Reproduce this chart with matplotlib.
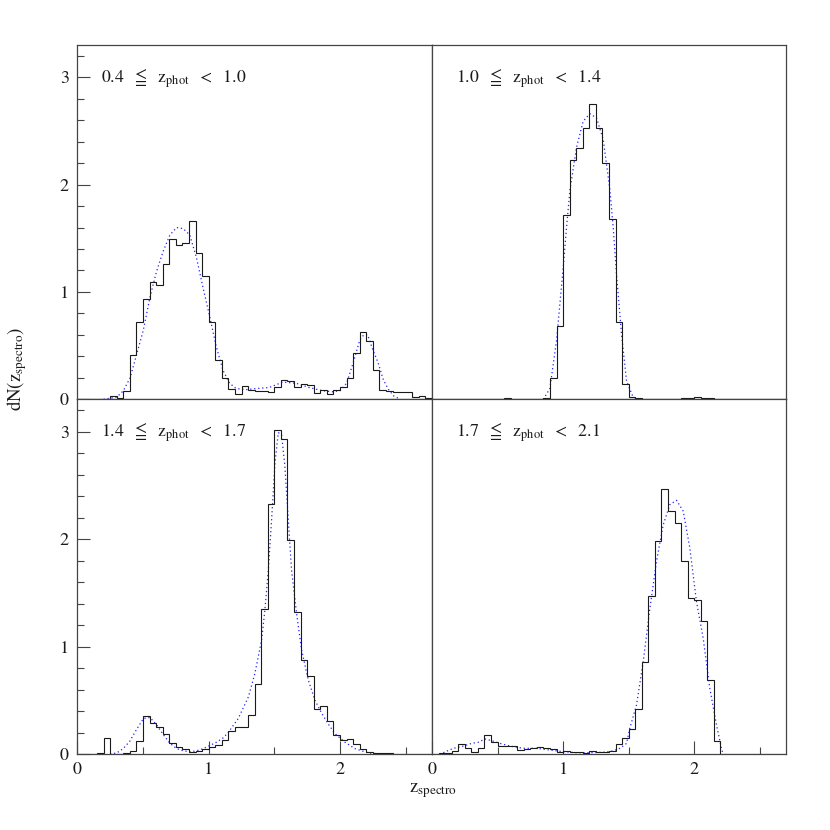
import numpy as np
import matplotlib
matplotlib.use("Agg")
import matplotlib.pyplot as plt

plt.rcParams['font.family'] = ['STIXGeneral', 'DejaVu Serif']
plt.rcParams['mathtext.fontset'] = 'stix'

# ---- data -------------------------------------------------------------
bin_start = 0.0
bin_width = 0.05

panel_labels = [r'$0.4\ \ \leqq\ \ \mathrm{z_{phot}}\ \ <\ \ 1.0$',
                r'$1.0\ \ \leqq\ \ \mathrm{z_{phot}}\ \ <\ \ 1.4$',
                r'$1.4\ \ \leqq\ \ \mathrm{z_{phot}}\ \ <\ \ 1.7$',
                r'$1.7\ \ \leqq\ \ \mathrm{z_{phot}}\ \ <\ \ 2.1$']

hist_1 = [0, 0, 0, 0,
          0.006, 0.03, 0.01, 0.077,
          0.41, 0.72, 0.93, 1.09, 1.06, 1.26, 1.49, 1.44, 1.46, 1.66, 1.36, 1.15,
          0.72, 0.37, 0.20, 0.10, 0.046, 0.12, 0.09, 0.08, 0.08, 0.07,
          0.11, 0.18, 0.17, 0.11, 0.14, 0.13, 0.06, 0.09, 0.05, 0.09,
          0.11, 0.20, 0.43, 0.63, 0.54, 0.27, 0.09, 0.08, 0.07, 0.065,
          0.065, 0.018, 0.033, 0.016]
hist_2 = [0, 0, 0, 0, 0,
          0.006,
          0, 0, 0, 0,
          0.006, 0.008,
          0, 0.005,
          0, 0,
          0.005, 0.008,
          0.20, 0.68,
          1.72, 2.23, 2.34, 2.53, 2.75, 2.53, 2.20, 1.68, 0.72, 0.14,
          0.018, 0.01, 0.004, 0.004, 0.004, 0.004, 0.004, 0.005, 0.008, 0.01,
          0.022, 0.015, 0.015, 0.005, 0.003, 0.003, 0.003, 0, 0, 0,
          0, 0, 0, 0]
hist_3 = [0, 0, 0,
          0.01, 0.146, 0, 0, 0.005, 0.025, 0.124,
          0.35, 0.29, 0.25, 0.19, 0.10, 0.062, 0.047, 0.016, 0.03, 0.047,
          0.068, 0.084, 0.13, 0.21, 0.25, 0.25, 0.36, 0.65, 1.35, 2.33,
          3.01, 2.93, 1.99, 1.32, 0.87, 0.73, 0.42, 0.45, 0.31, 0.18,
          0.13, 0.14, 0.09, 0.05, 0.022, 0.012, 0.005, 0.005, 0, 0,
          0, 0, 0, 0]
hist_4 = [0.003,
          0.006, 0.005, 0.031, 0.093, 0.053, 0.016, 0.053, 0.177, 0.115,
          0.074, 0.074, 0.074, 0.037, 0.047, 0.053, 0.068, 0.053, 0.047, 0.022,
          0.031, 0.016, 0.016, 0.006, 0.031, 0.016, 0.016, 0.025, 0.09, 0.146,
          0.23, 0.42, 0.86, 1.47, 1.98, 2.47, 2.26, 2.15, 1.80, 1.45,
          1.43, 1.24, 0.69, 0.12, 0, 0, 0, 0, 0, 0,
          0, 0, 0, 0]

fit_z_1 = [0.20, 0.30, 0.351, 0.402, 0.452, 0.502, 0.553, 0.603, 0.654, 0.705,
           0.755, 0.806, 0.856, 0.907, 0.957, 1.008, 1.058, 1.109, 1.159, 1.210,
           1.285, 1.361, 1.462, 1.563, 1.664, 1.765, 1.866, 1.942, 2.00, 2.05,
           2.10, 2.15, 2.18, 2.21, 2.25, 2.29, 2.33, 2.37, 2.41, 2.46]
fit_v_1 = [0.0, 0.02, 0.08, 0.20, 0.42, 0.64, 0.95, 1.19, 1.38, 1.53,
           1.60, 1.59, 1.53, 1.32, 1.04, 0.77, 0.49, 0.27, 0.15, 0.10,
           0.09, 0.10, 0.11, 0.16, 0.15, 0.11, 0.08, 0.07, 0.08, 0.15,
           0.34, 0.55, 0.60, 0.60, 0.46, 0.34, 0.18, 0.09, 0.03, 0.0]

fit_z_2 = [0.849, 0.899, 0.950, 1.001, 1.026, 1.052, 1.103, 1.153, 1.204, 1.255,
           1.306, 1.357, 1.382, 1.407, 1.446, 1.484, 1.534, 1.585]
fit_v_2 = [0.0, 0.10, 0.55, 1.23, 1.60, 1.95, 2.35, 2.59, 2.66, 2.62,
           2.42, 1.95, 1.60, 1.17, 0.60, 0.17, 0.02, 0.0]

fit_z_3 = [0.249, 0.30, 0.35, 0.40, 0.452, 0.503, 0.553, 0.604, 0.655, 0.705,
           0.756, 0.807, 0.858, 0.908, 0.959, 1.01, 1.06, 1.11, 1.149, 1.225,
           1.302, 1.352, 1.403, 1.428, 1.454, 1.479, 1.505, 1.530, 1.555, 1.580,
           1.606, 1.631, 1.669, 1.707, 1.758, 1.809, 1.860, 1.910, 1.961, 2.037,
           2.113, 2.215, 2.30]
fit_v_3 = [0.0, 0.01, 0.05, 0.12, 0.23, 0.33, 0.34, 0.27, 0.18, 0.10,
           0.05, 0.03, 0.02, 0.03, 0.05, 0.08, 0.11, 0.15, 0.20, 0.33,
           0.53, 0.75, 1.06, 1.34, 1.71, 2.18, 2.71, 2.99, 2.97, 2.68,
           2.18, 1.71, 1.31, 0.97, 0.69, 0.50, 0.38, 0.28, 0.19, 0.11,
           0.05, 0.01, 0.0]

fit_z_4 = [0.086, 0.163, 0.239, 0.303, 0.353, 0.404, 0.455, 0.518, 0.595, 0.696,
           0.798, 0.899, 1.001, 1.102, 1.204, 1.306, 1.382, 1.433, 1.484, 1.509,
           1.560, 1.611, 1.662, 1.712, 1.763, 1.814, 1.865, 1.916, 1.966, 2.017,
           2.068, 2.119, 2.170, 2.208, 2.220]
fit_v_4 = [0.012, 0.053, 0.074, 0.099, 0.109, 0.140, 0.124, 0.099, 0.074, 0.053,
           0.053, 0.037, 0.022, 0.012, 0.012, 0.016, 0.028, 0.053, 0.099, 0.24,
           0.457, 0.86, 1.356, 1.79, 2.13, 2.32, 2.36, 2.26, 1.92, 1.42,
           1.08, 0.61, 0.27, 0.05, 0.0]

x_major = [0, 1, 2]
x_minor = [0.5, 1.5, 2.5]
y_major = [0, 1, 2, 3]
x_ticklabels = ['0', '1', '2']
y_ticklabels = ['0', '1', '2', '3']

# ---- figure -----------------------------------------------------------
fig = plt.figure(figsize=(8.3, 8.3), dpi=100)
L, M, R = 77.3 / 830, 432 / 830, 786 / 830
B, Mid, T = 1 - 754 / 830, 1 - 399.3 / 830, 1 - 45 / 830
rects = [[L, Mid, M - L, T - Mid], [M, Mid, R - M, T - Mid],
         [L, B, M - L, Mid - B], [M, B, R - M, Mid - B]]

hists = [hist_1, hist_2, hist_3, hist_4]
fits = [(fit_z_1, fit_v_1), (fit_z_2, fit_v_2), (fit_z_3, fit_v_3), (fit_z_4, fit_v_4)]

for i, rect in enumerate(rects):
    ax = fig.add_axes(rect)
    vals = np.array(hists[i])
    edges = np.round(bin_start + bin_width * np.arange(len(vals) + 1), 3)
    ax.stairs(vals, edges, color='#1a1a1a', lw=0.8, baseline=0, zorder=3)
    fz, fv = fits[i]
    ax.plot(fz, fv, color='#2020ff', lw=0.9, linestyle=(0, (1.0, 2.2)), zorder=2)
    ax.set_xlim(0, 2.7)
    ax.set_ylim(0, 3.3)
    ax.text(0.18, 2.95, panel_labels[i], fontsize=12.8, ha='left', va='baseline',
            color='#1a1a1a')
    for s in ax.spines.values():
        s.set_color('#444444')
        s.set_linewidth(0.9)
    left_col = (i % 2 == 0)
    bottom_row = (i >= 2)
    ax.tick_params(which='both', direction='in', top=False, right=False,
                   left=left_col, bottom=bottom_row,
                   labelleft=left_col, labelbottom=bottom_row,
                   colors='#444444', labelcolor='#1a1a1a', labelsize=13)
    ax.tick_params(which='major', length=9.5, width=0.8, pad=6)
    ax.tick_params(which='minor', length=5, width=0.8)
    ax.set_xticks(x_major)
    ax.set_xticklabels(x_ticklabels)
    ax.set_xticks(x_minor, minor=True)
    ax.set_yticks(y_major)
    ax.set_yticklabels(y_ticklabels)
    ax.set_yticks(np.round(np.arange(0, 3.3, 0.2), 2), minor=True)

fig.text(0.02, 0.555, r'$\mathrm{dN(z_{spectro})}$', rotation=90,
         fontsize=13.5, ha='center', va='center', color='#1a1a1a')
fig.text(0.522, 0.047, r'$\mathrm{z_{spectro}}$', fontsize=13.5,
         ha='center', va='center', color='#1a1a1a')

fig.savefig('out.png', dpi=100)
